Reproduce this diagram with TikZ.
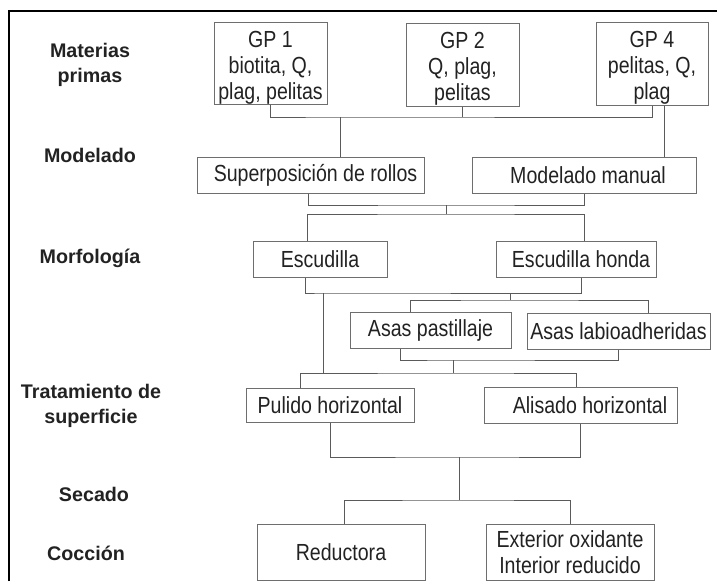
\documentclass[tikz,border=0pt]{standalone}
\usepackage{fontspec}
\setmainfont{Liberation Sans}[FakeStretch=0.84]
\newfontfamily\lblfont{Liberation Sans}
\definecolor{boxline}{HTML}{6E6E6E}
\definecolor{connc}{HTML}{5A5A5A}
\definecolor{txt}{HTML}{222222}
\begin{document}
\begin{tikzpicture}[x=1pt,y=-1pt,
  box/.style={draw=boxline, line width=1pt, inner sep=0pt, align=center, text=txt,
    font=\fontsize{23.3}{26}\selectfont},
  conn/.style={draw=connc, line width=1pt},
  lbl/.style={font=\lblfont\bfseries\fontsize{19.7}{25}\selectfont, text=txt, align=center, inner sep=0pt}]
\useasboundingbox (0,0) rectangle (717,581);
\draw[line width=1.3pt] (9,581) -- (9,11) -- (717,11);

% left labels (base = baseline of last line)
\node[lbl, anchor=base] (lmat) at (90,82) {Materias\\primas};
\node[lbl, anchor=base] (lmod) at (90,162) {Modelado};
\node[lbl, anchor=base] (lmor) at (90,263) {Morfología};
\node[lbl, anchor=base] (ltra) at (91,423) {Tratamiento de\\superficie};
\node[lbl, anchor=base] (lsec) at (94,501) {Secado};
\node[lbl, anchor=base] (lcoc) at (86,560) {Cocción};

% boxes
\node[box, minimum width=113pt, minimum height=82pt] (gp1) at (270.5,63) {\rule{0pt}{25pt}GP 1\\biotita, Q,\\plag, pelitas};
\node[box, minimum width=113pt, minimum height=83pt] (gp2) at (462.5,64.5) {\rule{0pt}{25pt}GP 2\\Q, plag,\\pelitas};
\node[box, minimum width=112pt, minimum height=83pt] (gp4) at (652,63.5) {\rule{0pt}{25pt}GP 4\\pelitas, Q,\\plag};
\node[box, minimum width=227pt, minimum height=36pt] (sup) at (310.5,175) {\hspace*{10pt}Superposición de rollos};
\node[box, minimum width=224pt, minimum height=36pt] (mm) at (584,175) {\hspace*{8pt}Modelado manual};
\node[box, minimum width=134pt, minimum height=36pt] (esc) at (320,259) {Escudilla};
\node[box, minimum width=160pt, minimum height=36pt] (esch) at (576,259) {\hspace*{10pt}Escudilla honda};
\node[box, minimum width=161pt, minimum height=36pt] (asp) at (430.5,330) {Asas pastillaje};
\node[box, minimum width=183pt, minimum height=36pt] (asl) at (618.5,331) {Asas labioadheridas};
\node[box, minimum width=168pt, minimum height=34pt] (pul) at (330,405) {Pulido horizontal};
\node[box, minimum width=193pt, minimum height=36pt] (ali) at (580.5,405) {\hspace*{19pt}Alisado horizontal};
\node[box, minimum width=168pt, minimum height=56pt] (red) at (341,552) {Reductora};
\node[box, minimum width=168pt, minimum height=56pt] (ext) at (570,552) {Exterior oxidante\\Interior reducido};

% junction coordinates
\coordinate (r1) at (340,117);
\coordinate (r2) at (446,205);
\coordinate (r3) at (446,214);
\coordinate (r4) at (323,293);
\coordinate (r5) at (510,293);
\coordinate (r6) at (510,300);
\coordinate (r8) at (453,360);
\coordinate (r9) at (453,373);
\coordinate (r10) at (459,457);
\coordinate (r11) at (459,500);

% connectors
\draw[conn] (gp1.south) |- (r1) -| (gp4.south);
\draw[conn] (gp2.south) -- (gp2.south |- r1);
\draw[conn] (r1) -- (r1 |- sup.north);
\draw[conn] ([xshift=12pt]gp4.south) -- ([xshift=12pt]gp4.south |- mm.north);

\draw[conn] ([xshift=-2pt]sup.south) |- (r2) -| (mm.south);
\draw[conn] (r2) -- (r3);
\draw[conn] ([xshift=-13pt]esc.north) |- (r3) -| ([xshift=8pt]esch.north);

\draw[conn] ([xshift=-15pt]esc.south) |- (r4) -| ([xshift=5pt]esch.south);
\draw[conn] (r4) -- (r4 |- r9);
\draw[conn] (r5) -- (r6);
\draw[conn] ([xshift=-20.5pt]asp.north) |- (r6) -| ([xshift=29.5pt]asl.north);

\draw[conn] ([xshift=-30.5pt]asp.south) |- (r8) -| (asl.south);
\draw[conn] (r8) -- (r9);
\draw[conn] ([xshift=-30pt]pul.north) |- (r9) -| ([xshift=-4.5pt]ali.north);

\draw[conn] (pul.south) |- (r10) -| (ali.south);
\draw[conn] (r10) -- (r11);
\draw[conn] ([xshift=3pt]red.north) |- (r11) -| (ext.north);
\end{tikzpicture}
\end{document}
